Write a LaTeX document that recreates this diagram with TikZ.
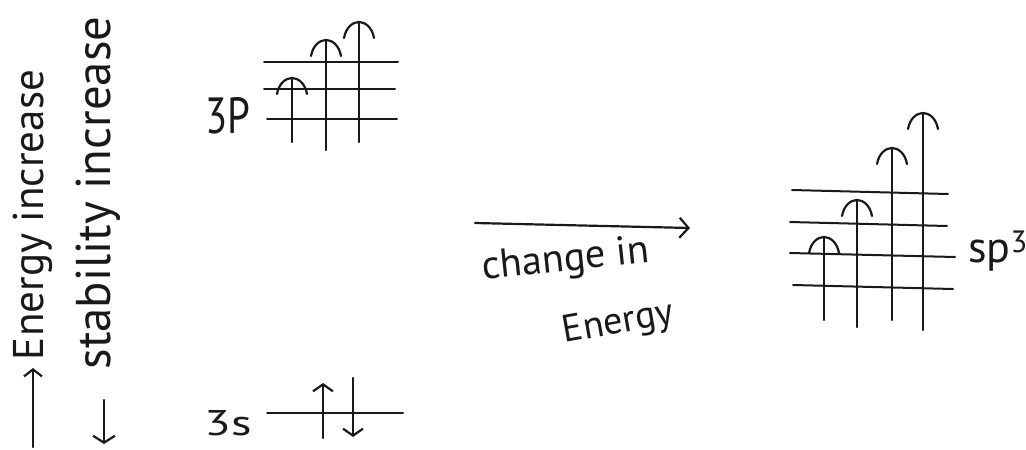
\documentclass[tikz,border=0pt]{standalone}
\usepackage{fontspec}
\setmainfont{PT Sans}
\usepackage{graphicx}
\usetikzlibrary{arrows.meta}
\tikzset{
  ink/.style={line width=2.2pt, line cap=round, line join=round, draw=black!90},
  lvl/.style={line width=2pt, line cap=round, draw=black!90},
  hand/.style={inner sep=0pt, text=black!90, font=\fontsize{30}{30}\selectfont},
  orbhead/.pic={\draw[ink] (-15,16) .. controls (-13,5) and (-6,0) .. (0,0) .. controls (6,0) and (13,5) .. (15,16);},
}
\begin{document}
\begin{tikzpicture}[x=1pt,y=-1pt]
\useasboundingbox[fill=white] (0,0) rectangle (1026,450);

% left axis labels
\node[hand, rotate=90, anchor=base] (energy) at (43,215) {\resizebox{290pt}{!}{Energy increase}};
\node[hand, rotate=90, anchor=base] (stab) at (110,193) {\resizebox{353pt}{!}{stability increase}};
\coordinate (eA) at (33,447); \coordinate (eB) at (33,368);
\coordinate (sA) at (104,400); \coordinate (sB) at (104,444);
\draw[ink, -{Straight Barb[length=7pt,width=18pt]}] (eA) -- (eB);
\draw[ink, -{Straight Barb[length=7pt,width=22pt]}] (sA) -- (sB);

% 3p levels
\node[hand, anchor=base] (p3) at (228,133) {\resizebox{45pt}{36pt}{3P}};
\draw[lvl] (264,62) -- (398,62);
\draw[lvl] (264,89) -- (395,89);
\draw[lvl] (267,119) -- (397,119);
\draw[ink] (292,142) -- (292,78) pic {orbhead};
\draw[ink] (326,150) -- (326,40) pic {orbhead};
\draw[ink] (359,142) -- (359,22) pic {orbhead};

% 3s level
\node[hand, anchor=base] (s3) at (228,435) {\resizebox{47pt}{25pt}{3s}};
\draw[lvl] (267,413) -- (403,413);
\draw[ink, -{Straight Barb[length=7pt,width=20pt]}] (323,438) -- (323,383);
\draw[ink, -{Straight Barb[length=7pt,width=20pt]}] (353,378) -- (353,437);

% change in energy
\coordinate (mA) at (475,223); \coordinate (mB) at (690,228);
\draw[ink, -{Straight Barb[length=9pt,width=20pt]}] (mA) -- (mB);
\node[hand, rotate=6, anchor=base] (chg) at (567,271) {\resizebox{168pt}{!}{change in}};
\node[hand, rotate=10, anchor=base] (en) at (620,333) {\resizebox{112pt}{!}{Energy}};

% sp3 levels
\draw[lvl] (792,190) -- (948,194);
\draw[lvl] (790,222) -- (947,226);
\draw[lvl] (790,253) -- (955,257);
\draw[lvl] (793,285) -- (953,289);
\draw[ink] (824,320) -- (824,237) pic {orbhead};
\draw[ink] (857,327) -- (857,200) pic {orbhead};
\draw[ink] (892,320) -- (892,148) pic {orbhead};
\draw[ink] (923,330) -- (923,113) pic {orbhead};
\node[hand, anchor=base west, font=\fontsize{44}{44}\selectfont] (sp3) at (968,262) {sp\textsuperscript{3}};
\end{tikzpicture}
\end{document}
